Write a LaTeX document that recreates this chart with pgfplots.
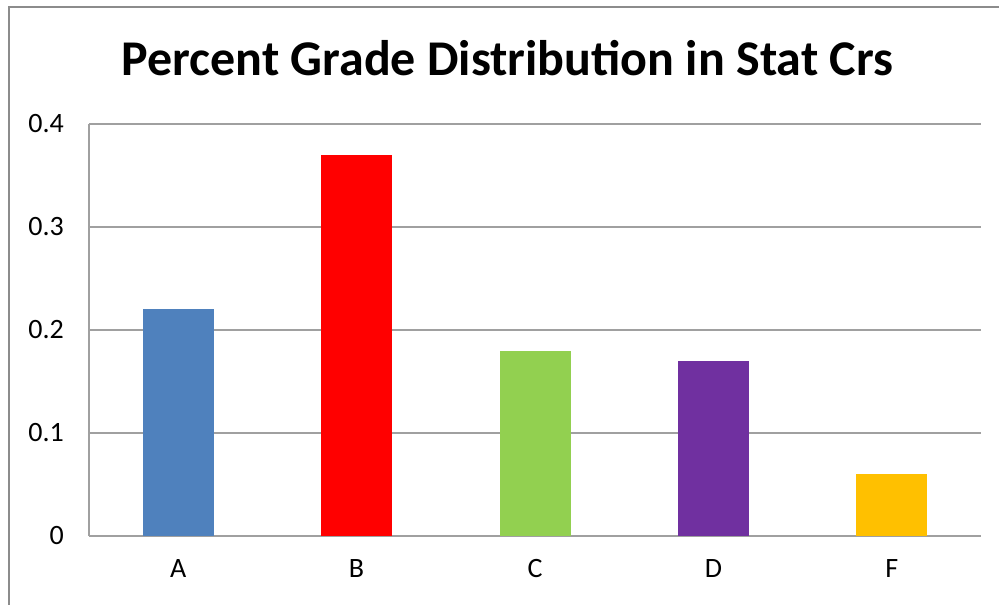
\documentclass[border=0pt]{standalone}
\usepackage{fontspec}
\setmainfont{Carlito}
\usepackage{pgfplots}
\pgfplotsset{compat=1.18}

\definecolor{gridgray}{HTML}{A0A0A0}
\definecolor{framegray}{HTML}{8C8C8C}
\definecolor{barA}{HTML}{4F81BD}
\definecolor{barB}{HTML}{FF0000}
\definecolor{barC}{HTML}{92D050}
\definecolor{barD}{HTML}{7030A0}
\definecolor{barF}{HTML}{FFC000}

\begin{document}
\begin{tikzpicture}
\path[use as bounding box] (0,0) rectangle (499.5pt,302pt);
% chart frame (runs off the right and bottom edge)
\draw[framegray, line width=1.2pt] (4.5pt,-5pt) -- (4.5pt,298.5pt) -- (510pt,298.5pt);
\node[anchor=base, font=\fontsize{25}{29}\selectfont\bfseries] at (253.75pt,264pt) {Percent Grade Distribution in Stat Crs};
\begin{axis}[
scale only axis,
at={(44.5pt,34pt)}, anchor=south west,
width=446pt, height=206pt,
ybar, bar width=35.5pt,
xmin=-0.5, xmax=4.5,
ymin=0, ymax=0.4,
xtick={0,1,2,3,4},
xticklabels={A,B,C,D,F},
ytick={0,0.1,0.2,0.3,0.4},
yticklabels={0,0.1,0.2,0.3,0.4},
major tick length=0pt,
axis x line*=bottom, axis y line*=left,
axis line style={gridgray, line width=0.8pt, -},
ymajorgrids, grid style={gridgray, line width=0.8pt},
tick label style={font=\fontsize{14}{16}\selectfont},
xticklabel style={yshift=-8pt},
yticklabel style={xshift=-9pt},
every axis plot/.append style={draw=none, bar shift=0pt},
]
\addplot[fill=barA] coordinates {(0,0.22)};
\addplot[fill=barB] coordinates {(1,0.37)};
\addplot[fill=barC] coordinates {(2,0.18)};
\addplot[fill=barD] coordinates {(3,0.17)};
\addplot[fill=barF] coordinates {(4,0.06)};
\end{axis}
\end{tikzpicture}
\end{document}
